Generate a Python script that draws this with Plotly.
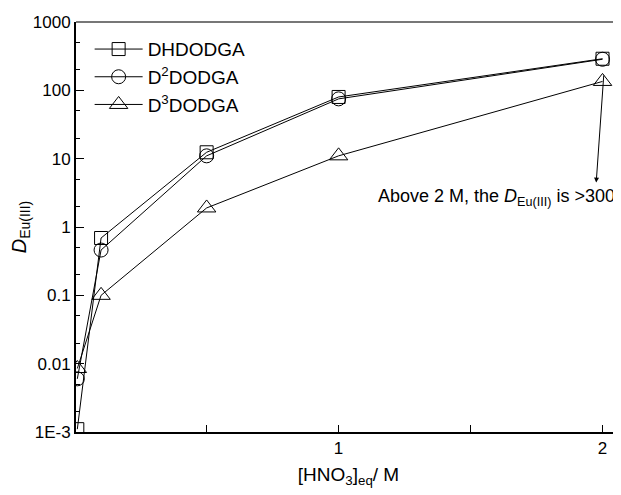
import plotly.graph_objects as go

x_vals = [0.01, 0.1, 0.5, 1.0, 2.0]
dhdodga = [0.0011, 0.69, 12.4, 80, 290]
d2dodga = [0.006, 0.46, 11, 75, 285]
d3dodga = [0.0085, 0.1, 1.9, 11, 135]
series_names = ["DHDODGA", "D<sup>2</sup>DODGA", "D<sup>3</sup>DODGA"]
y_tickvals = [1e-3, 1e-2, 1e-1, 1, 10, 100, 1000]
y_ticktext = ["1E-3", "0.01", "0.1", "1", "10", "100", "1000"]
x_tickvals = [0.5, 1, 1.5, 2]
x_ticktext = ["", "1", "", "2"]

FONT = "Liberation Sans, Arial, sans-serif"
fig = go.Figure()
symbols = ["square-open", "circle-open", "triangle-up-open"]
sizes = [13, 14, 16]
for name, ys, sym, sz in zip(series_names, [dhdodga, d2dodga, d3dodga], symbols, sizes):
    fig.add_trace(go.Scatter(
        x=x_vals, y=ys, name=name, mode="lines+markers",
        line=dict(color="black", width=1),
        marker=dict(symbol=sym, size=sz, color="black", line=dict(width=1, color="black")),
    ))

fig.update_layout(
    width=613, height=487,
    margin=dict(l=68, r=0, t=14, b=63),
    plot_bgcolor="white", paper_bgcolor="white",
    font=dict(family=FONT, size=17, color="black"),
    showlegend=True,
    legend=dict(x=0.025, y=0.98, xanchor="left", yanchor="top",
                bgcolor="rgba(0,0,0,0)", font=dict(size=19),
                tracegroupgap=0, itemwidth=48),
    xaxis=dict(
        range=[0.005, 2.07], showline=True, linecolor="black", linewidth=2,
        automargin=False,
        mirror=False, ticks="inside", ticklen=7, tickwidth=1, tickcolor="black",
        tickvals=x_tickvals, ticktext=x_ticktext, showgrid=False, zeroline=False,
        title=dict(text="[HNO<sub>3</sub>]<sub>eq</sub>/ M", font=dict(size=19), standoff=10),
    ),
    yaxis=dict(
        type="log", range=[-3, 3], showline=True, linecolor="black", linewidth=2,
        automargin=False,
        ticks="inside", ticklen=8, tickwidth=1, tickcolor="black",
        tickvals=y_tickvals, ticktext=y_ticktext, showgrid=False, zeroline=False,
        minor=dict(ticks="inside", ticklen=4, tickwidth=1, tickcolor="black", showgrid=False),
        title=dict(text="<i>D</i><sub>Eu(III)</sub>", font=dict(size=20), standoff=6),
    ),
    shapes=[dict(type="line", xref="paper", yref="paper", x0=0, x1=1, y0=1, y1=1,
                 line=dict(color="#777", width=2))],
    annotations=[
        dict(x=0.992, xref="paper", y=0.43, yref="y", xanchor="right", yanchor="middle",
             text="Above 2 M, the <i>D</i><sub>Eu(III)</sub> is >300", showarrow=False,
             font=dict(size=18)),
        dict(x=1.976, y=0.65, xref="x", yref="y", ax=2.005, ay=2.24, axref="x", ayref="y",
             text="", showarrow=True, arrowhead=2, arrowsize=1, arrowwidth=1, arrowcolor="black"),
    ],
)
fig.write_html("out.html")
